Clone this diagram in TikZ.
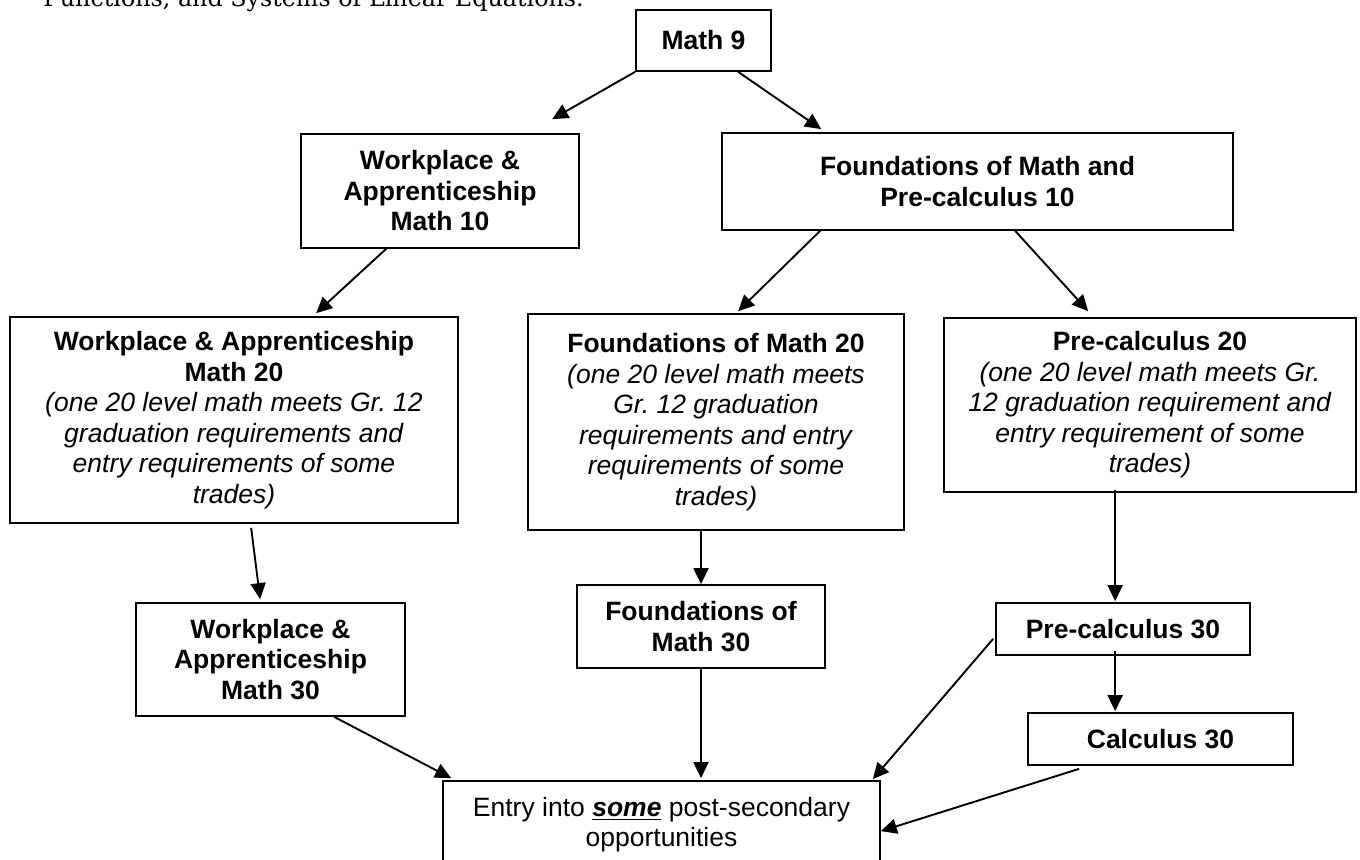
\documentclass[tikz,border=0pt]{standalone}
\usepackage{fontspec}
\setmainfont{Liberation Sans}
\newfontfamily\introfont{DejaVu Serif}
\usetikzlibrary{calc, arrows.meta}
\frenchspacing

\begin{document}
\begin{tikzpicture}[x=0.5pt, y=-0.5pt,
    box/.style={draw, line width=0.85pt, align=center, inner sep=0pt,
        font=\fontsize{13.25}{15.25}\selectfont},
    boxsize/.style 2 args={minimum width=#1*0.5pt, minimum height=#2*0.5pt},
    arr/.style={-{Triangle[length=8pt,width=7.5pt]}, line width=0.95pt}]
    \useasboundingbox (0,0) rectangle (1360,860);
    \clip (0,0) rectangle (1360,860);

    \node[anchor=base west, inner sep=0pt, font=\introfont\fontsize{11.9}{14}\selectfont] (intro) at (43,7) {Functions, and Systems of Linear Equations.};

    \node[box, boxsize={135}{61}] (M9) at (703.5,40.5) {\textbf{Math 9}};
    \node[box, boxsize={278}{114}] (WA10) at (440,191) {\textbf{Workplace \&}\\\textbf{Apprenticeship}\\\textbf{Math 10}};
    \node[box, boxsize={511}{97}] (FPC10) at (977.5,181.5) {\textbf{Foundations of Math and}\\\textbf{Pre-calculus 10}};

    \node[box, boxsize={448}{206}] (WA20) at (234,420) {\textbf{Workplace \& Apprenticeship}\\\textbf{Math 20}\\\textit{(one 20 level math meets Gr. 12}\\\textit{graduation requirements and}\\\textit{entry requirements of some}\\\textit{trades)}};
    \node[box, boxsize={376}{216}] (FM20) at (716,422) {\textbf{Foundations of Math 20}\\\textit{(one 20 level math meets}\\\textit{Gr. 12 graduation}\\\textit{requirements and entry}\\\textit{requirements of some}\\\textit{trades)}};
    \node[box, boxsize={412}{174}] (PC20) at (1150,405) {\textbf{Pre-calculus 20}\\\textit{(one 20 level math meets Gr.}\\\textit{12 graduation requirement and}\\\textit{entry requirement of some}\\\textit{trades)}};

    \node[box, boxsize={269}{113}] (WA30) at (270.5,659.5) {\textbf{Workplace \&}\\\textbf{Apprenticeship}\\\textbf{Math 30}};
    \node[box, boxsize={248}{83}] (FM30) at (701,626.5) {\textbf{Foundations of}\\\textbf{Math 30}};
    \node[box, boxsize={254}{52}] (PC30) at (1123,629) {\textbf{Pre-calculus 30}};
    \node[box, boxsize={265}{52}] (Calc30) at (1160.5,739) {\textbf{Calculus 30}};

    \node[box, boxsize={437}{87}] (Entry) at (661.5,824.5) {Entry into \underline{\textbf{\textit{some}}} post-secondary\\opportunities};

    \draw[arr] (M9.south west) -- ($(WA10.north west)+(252,-14)$);
    \draw[arr] ($(M9.south west)+(103,0)$) -- ($(FPC10.north west)+(100,-3)$);
    \draw[arr] ($(WA10.south west)+(86,0)$) -- ($(WA20.north west)+(307,-3)$);
    \draw[arr] ($(FPC10.south west)+(99,0)$) -- ($(FM20.north west)+(211,-2)$);
    \draw[arr] ($(FPC10.south west)+(294,0)$) -- ($(PC20.north west)+(145,-6)$);
    \draw[arr] ($(WA20.south west)+(242,4)$) -- ($(WA30.north west)+(125,-3)$);
    \draw[arr] (FM30.north |- FM20.south) -- (FM30.north);
    \draw[arr] ($(PC20.south west)+(172,-3)$) -- ($(PC30.north west)+(120,-1)$);
    \draw[arr] ($(PC30.south west)+(120,-5)$) -- ($(Calc30.north west)+(88,-1)$);

    \draw[arr] (FM30.south) -- ($(FM30.south |- Entry.north)+(0,-2)$);
    \draw[arr] ($(WA30.south west)+(199,0)$) -- ($(Entry.north west)+(9,-2)$);
    \draw[arr] ($(PC30.south west)+(-2,-17)$) -- ($(Entry.north east)+(-8,-1)$);
    \draw[arr] ($(Calc30.south west)+(52,3)$) -- ($(Entry.north east)+(0,51)$);
\end{tikzpicture}
\end{document}
